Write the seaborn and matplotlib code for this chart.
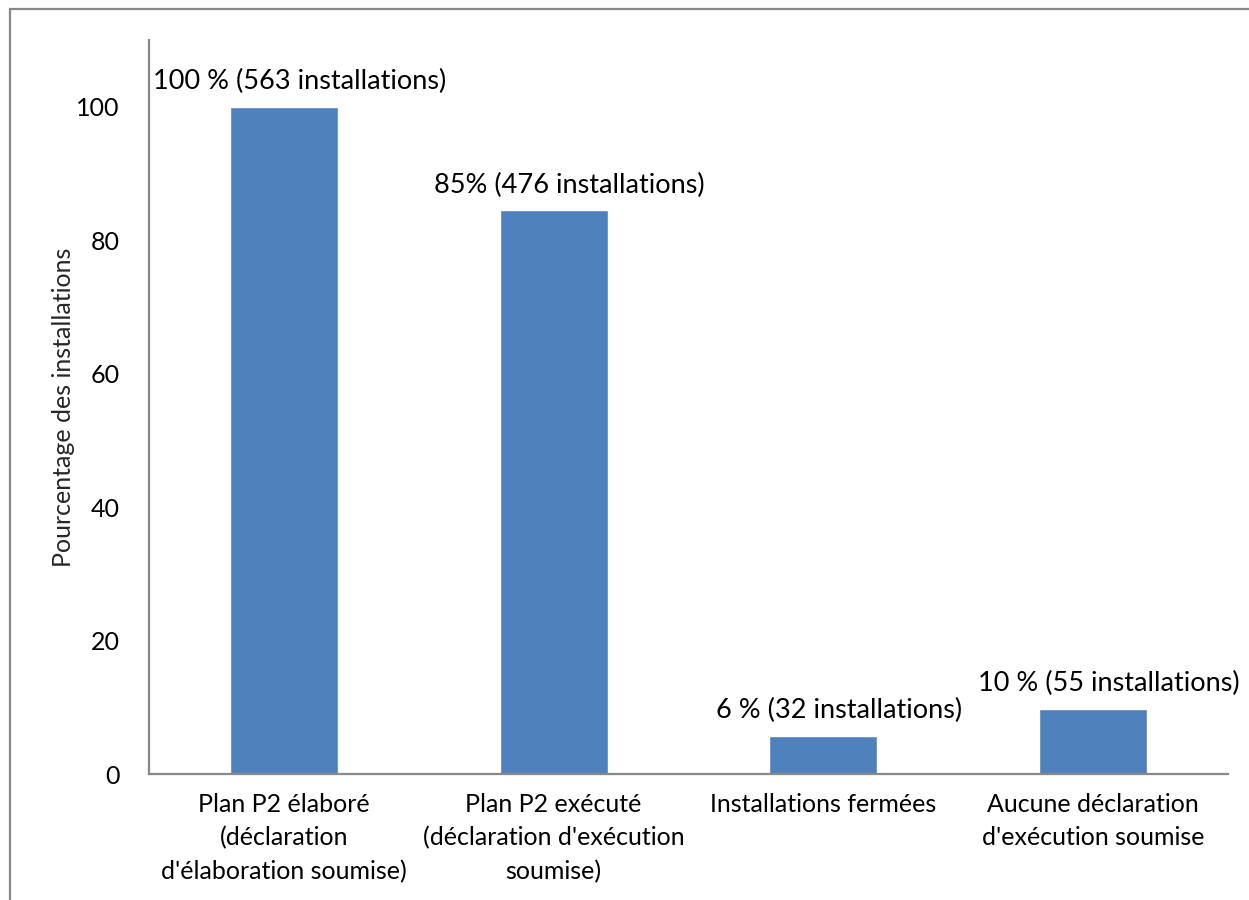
import matplotlib
matplotlib.use("Agg")
import matplotlib.pyplot as plt
import seaborn as sns
import pandas as pd
from matplotlib.patches import Rectangle

categories = [
    "Plan P2 élaboré\n(déclaration\nd'élaboration soumise)",
    "Plan P2 exécuté\n(déclaration d'exécution\nsoumise)",
    "Installations fermées",
    "Aucune déclaration\nd'exécution soumise",
]
percentages = [100, 84.5, 5.7, 9.8]
bar_labels = [
    "100 % (563 installations)",
    "85% (476 installations)",
    "6 % (32 installations)",
    "10 % (55 installations)",
]
y_ticks = [0, 20, 40, 60, 80, 100]

sns.set_theme(style="white")
plt.rcParams["font.family"] = ["Lato", "DejaVu Sans"]

df = pd.DataFrame({"categorie": categories, "pourcentage": percentages})

fig = plt.figure(figsize=(12.49, 9.0), dpi=100)
ax = fig.add_axes([149 / 1249, 126 / 900, (1228 - 149) / 1249, (774 - 40) / 900])

sns.barplot(data=df, x="categorie", y="pourcentage", color="#4F81BD",
            saturation=1, width=0.4, ax=ax)

ax.set_ylim(0, 110)
ax.set_xlim(-0.5, len(categories) - 0.5)
ax.set_yticks(y_ticks)
ax.tick_params(axis="both", length=0, labelsize=18, colors="black")
ax.tick_params(axis="y", pad=21)
ax.tick_params(axis="x", pad=14)
for lbl in ax.get_xticklabels():
    lbl.set_linespacing(1.52)
ax.set_xlabel("")
ax.set_ylabel("Pourcentage des installations", fontsize=18)
ax.yaxis.set_label_coords(-0.069, 0.5)

for side in ("top", "right"):
    ax.spines[side].set_visible(False)
for side in ("left", "bottom"):
    ax.spines[side].set_color("#888888")
    ax.spines[side].set_linewidth(1.6)

for i, (val, text) in enumerate(zip(percentages, bar_labels)):
    ax.annotate(text, xy=(i, val), xytext=(11, 18), textcoords="offset points",
                ha="center", va="center", fontsize=19.5, color="black")

# outer chart frame
fig.patches.append(Rectangle((10 / 1249, -0.1), 1.2, 0.1 + (900 - 9) / 900,
                             transform=fig.transFigure, fill=False,
                             edgecolor="#888888", linewidth=1.6))

fig.savefig("out.png", dpi=100)
